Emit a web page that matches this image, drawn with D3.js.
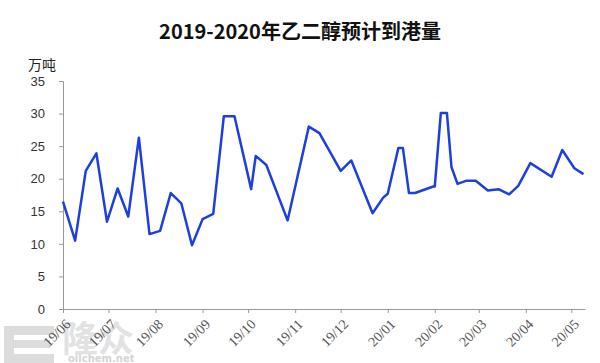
<!DOCTYPE html>
<html>
<head>
<meta charset="utf-8">
<script src="https://cdn.jsdelivr.net/npm/d3@7"></script>
<style>
  body { margin: 0; background: #fff; }
  svg { display: block; }
</style>
</head>
<body>
<div id="chart"></div>
<script>
// Chart data (expected arrivals, 万吨)
var dates = ["2019-06-01", "2019-06-09", "2019-06-16", "2019-06-23", "2019-06-30", "2019-07-07",
  "2019-07-14", "2019-07-21", "2019-07-28", "2019-08-04", "2019-08-11", "2019-08-18", "2019-08-25",
  "2019-09-01", "2019-09-08", "2019-09-15", "2019-09-22", "2019-10-03", "2019-10-06", "2019-10-13",
  "2019-10-27", "2019-11-10", "2019-11-17", "2019-12-01", "2019-12-08", "2019-12-22", "2019-12-29",
  "2020-01-01", "2020-01-08", "2020-01-11", "2020-01-15", "2020-01-19", "2020-01-31", "2020-02-01",
  "2020-02-05", "2020-02-09", "2020-02-12", "2020-02-16", "2020-02-22", "2020-02-28", "2020-03-07",
  "2020-03-14", "2020-03-21", "2020-03-27", "2020-04-04", "2020-04-18", "2020-04-25", "2020-05-03",
  "2020-05-09"];
var arrivals = [16.5, 10.5, 21.2, 23.9, 13.4, 18.5, 14.2, 26.3, 11.5, 12.0, 17.8, 16.2, 9.8,
  13.8, 14.6, 29.6, 29.6, 18.4, 23.5, 22.1, 13.6, 28.0, 27.0, 21.2, 22.8, 14.7, 17.1,
  17.7, 24.7, 24.7, 17.8, 17.8, 18.8, 18.8, 30.1, 30.1, 21.8, 19.2, 19.7, 19.7, 18.2,
  18.4, 17.6, 18.9, 22.4, 20.3, 24.4, 21.6, 20.7];
var yTicks = [0, 5, 10, 15, 20, 25, 30, 35];
var monthTicks = ["2019-06-01", "2019-07-01", "2019-08-01", "2019-09-01", "2019-10-01", "2019-11-01",
  "2019-12-01", "2020-01-01", "2020-02-01", "2020-03-01", "2020-04-01", "2020-05-01"];
var titleText = "2019-2020年乙二醇预计到港量";
var unitText = "万吨";

var svgWidth = 600;
var svgHeight = 363;
var margin = { top: 81, right: 15, bottom: 54, left: 63 };
var width = svgWidth - margin.left - margin.right;
var height = svgHeight - margin.top - margin.bottom;

var parseDate = d3.timeParse("%Y-%m-%d");
var fmt = d3.timeFormat("%y/%m");

var data = dates.map(function (d, i) {
  return { date: parseDate(d), value: arrivals[i] };
});

var svg = d3.select("#chart")
  .append("svg")
  .attr("width", svgWidth)
  .attr("height", svgHeight);

// faint watermark logo behind everything
var wm = svg.append("g").attr("fill", "#dcdcdc");
wm.append("rect").attr("x", 4).attr("y", 326).attr("width", 50).attr("height", 9);
wm.append("rect").attr("x", 4).attr("y", 326).attr("width", 10).attr("height", 37);
wm.append("rect").attr("x", 4).attr("y", 340).attr("width", 46).attr("height", 8);
wm.append("rect").attr("x", 4).attr("y", 354).attr("width", 50).attr("height", 9);
wm.append("text")
  .attr("x", 62).attr("y", 352)
  .attr("font-family", "Noto Sans CJK SC")
  .attr("font-weight", "bold")
  .attr("font-size", 36)
  .attr("fill", "#e2e2e2")
  .text("隆众");
wm.append("text")
  .attr("x", 68).attr("y", 362)
  .attr("font-family", "DejaVu Sans, sans-serif")
  .attr("font-weight", "bold")
  .attr("font-size", 10)
  .attr("fill", "#d4d4d4")
  .text("oilchem.net");

var chartGroup = svg.append("g")
  .attr("transform", `translate(${margin.left}, ${margin.top})`);

// scales
var xScale = d3.scaleTime()
  .domain([parseDate("2019-06-01"), parseDate("2020-05-10")])
  .range([0, width]);
var yScale = d3.scaleLinear()
  .domain([0, 35])
  .range([height, 0]);

// y axis
var leftAxis = d3.axisLeft(yScale)
  .tickValues(yTicks)
  .tickSize(4)
  .tickPadding(14);
var yAxisG = chartGroup.append("g").call(leftAxis);
yAxisG.select(".domain").attr("stroke", "#999");
yAxisG.selectAll(".tick line").attr("stroke", "#999");
yAxisG.selectAll("text")
  .attr("font-family", "Liberation Sans, Arial, sans-serif")
  .attr("font-size", 13)
  .attr("fill", "#333");

// x axis
var bottomAxis = d3.axisBottom(xScale)
  .tickValues(monthTicks.map(parseDate))
  .tickFormat(fmt)
  .tickSize(4)
  .tickSizeOuter(0);
var xAxisG = chartGroup.append("g")
  .attr("transform", `translate(0, ${height})`)
  .call(bottomAxis);
xAxisG.select(".domain").attr("stroke", "#999");
xAxisG.selectAll(".tick line").attr("stroke", "#999");
xAxisG.selectAll("text")
  .attr("font-family", "Liberation Serif, Times New Roman, serif")
  .attr("font-size", 14)
  .attr("fill", "#555")
  .attr("text-anchor", "end")
  .attr("dy", 0)
  .attr("y", 0)
  .attr("transform", "translate(8, 16) rotate(-45)");

// line
var line = d3.line()
  .x(d => xScale(d.date))
  .y(d => yScale(d.value));

chartGroup.append("path")
  .datum(data)
  .attr("fill", "none")
  .attr("stroke", "#1e3fdc")
  .attr("stroke-width", 2.5)
  .attr("stroke-linejoin", "round")
  .attr("d", line);

// title
svg.append("text")
  .attr("x", 300)
  .attr("y", 39)
  .attr("text-anchor", "middle")
  .attr("font-family", "Noto Sans CJK SC")
  .attr("font-weight", "bold")
  .attr("font-size", 20)
  .attr("fill", "#111")
  .text(titleText);

// unit label
svg.append("text")
  .attr("x", 28)
  .attr("y", 70)
  .attr("font-family", "Noto Sans CJK SC")
  .attr("font-size", 14)
  .attr("fill", "#222")
  .text(unitText);
</script>
</body>
</html>
